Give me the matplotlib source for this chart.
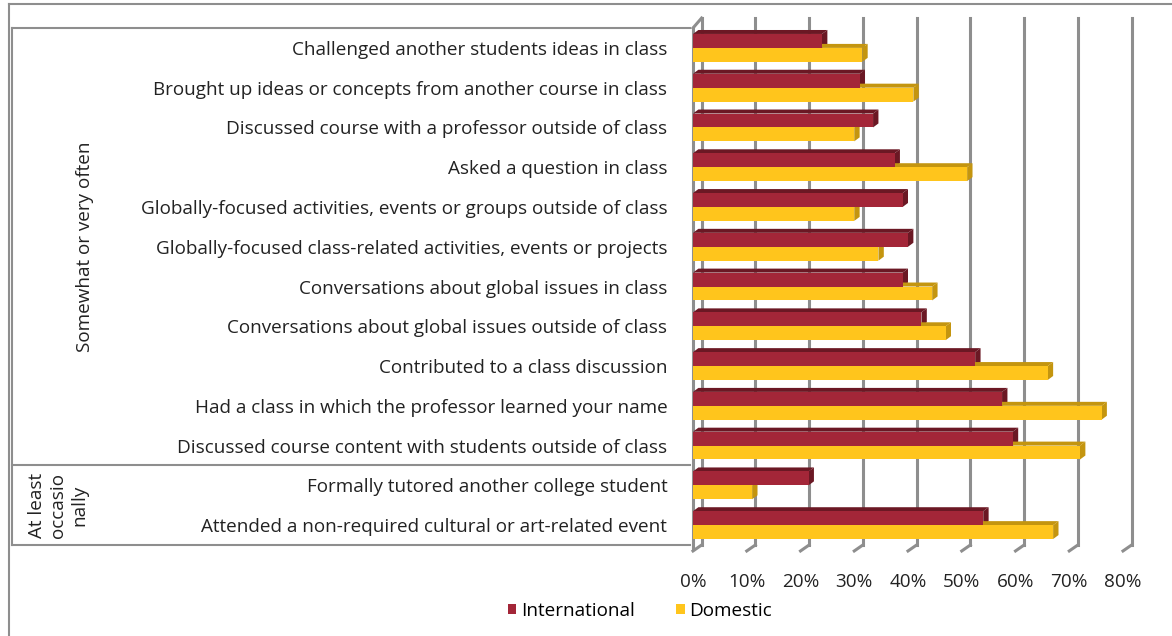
import matplotlib.pyplot as plt
from matplotlib.patches import Polygon, Patch
from matplotlib.lines import Line2D
from matplotlib.transforms import blended_transform_factory

plt.rcParams['font.family'] = ['Open Sans', 'DejaVu Sans']

categories = [
    'Challenged another students ideas in class',
    'Brought up ideas or concepts from another course in class',
    'Discussed course with a professor outside of class',
    'Asked a question in class',
    'Globally-focused activities, events or groups outside of class',
    'Globally-focused class-related activities, events or projects',
    'Conversations about global issues in class',
    'Conversations about global issues outside of class',
    'Contributed to a class discussion',
    'Had a class in which the professor learned your name',
    'Discussed course content with students outside of class',
    'Formally tutored another college student',
    'Attended a non-required cultural or art-related event',
]
international = [24, 31, 33.5, 37.5, 39, 40, 39, 42.5, 52.5, 57.5, 59.5, 21.5, 54]
domestic = [31.5, 41, 30, 51, 30, 34.5, 44.5, 47, 66, 76, 72, 11, 67]
groups = ['Somewhat or very often', 'At least\noccasio\nnally']
xticks = [0, 10, 20, 30, 40, 50, 60, 70, 80]

red, red_dark = '#A32638', '#6B1824'
gold, gold_dark = '#FFC51C', '#C4950F'
grid_c = '#8E8E8E'
txt_c = '#222222'
fs = 13.6
dx, dy = 1.0, 0.1  # 3d depth offsets


def draw_bar(ax, y, v, h, face, dark):
    top, bot = y - h / 2, y + h / 2
    ax.add_patch(Polygon([(0, top), (v, top), (v + dx, top - dy), (dx, top - dy)],
                         closed=True, facecolor=dark, edgecolor='none', zorder=3))
    ax.add_patch(Polygon([(v, bot), (v, top), (v + dx, top - dy), (v + dx, bot - dy)],
                         closed=True, facecolor=dark, edgecolor='none', zorder=3))
    ax.barh(y, v, height=h, color=face, zorder=4)


fig = plt.figure(figsize=(11.72, 6.36), dpi=100)
ax = fig.add_axes([693 / 1172, 1 - 545 / 636, 430 / 1172, 517 / 636])

h = 0.35
for i in range(len(categories)):
    draw_bar(ax, i - 0.175, international[i], h, red, red_dark)
    draw_bar(ax, i + 0.175, domestic[i], h, gold, gold_dark)

ax.set_xlim(0, 80)
ax.set_ylim(12.5, -0.5)

# back-wall gridlines and slanted floor ticks
for t in xticks:
    ax.plot([t + 1.6, t + 1.6], [12.5, -0.75], color=grid_c, lw=2.2, zorder=1, clip_on=False)
    ax.plot([t, t + 1.6], [12.65, 12.5], color=grid_c, lw=2.2, zorder=1, clip_on=False)
ax.plot([0, 0], [12.6, -0.5], color=grid_c, lw=2.2, zorder=2, clip_on=False)
ax.plot([0, 1.6], [-0.5, -0.75], color=grid_c, lw=2.2, zorder=2, clip_on=False)

for s in ax.spines.values():
    s.set_visible(False)
ax.set_xticks(xticks)
ax.set_xticklabels([f'{t}%' for t in xticks], fontsize=fs, color=txt_c)
ax.tick_params(axis='x', length=0, pad=20)
ax.set_yticks(range(len(categories)))
ax.set_yticklabels(categories, fontsize=fs, color=txt_c)
ax.tick_params(axis='y', length=0, pad=18.5)

# category table lines and group labels
bt = blended_transform_factory(fig.transFigure, ax.transData)
x_left, x_right = 12 / 1172, 690 / 1172
for yl in [-0.5, 10.5, 12.5]:
    ax.plot([x_left, x_right], [yl, yl], color=grid_c, lw=1.5, transform=bt, clip_on=False)
ax.plot([x_left, x_left], [-0.5, 12.5], color=grid_c, lw=1.5, transform=bt, clip_on=False)
ax.text(85 / 1172, 5, groups[0], rotation=90, ha='center', va='center',
        fontsize=fs, color=txt_c, transform=bt)
ax.text(58 / 1172, 11.5, groups[1], rotation=90, ha='center', va='center',
        fontsize=fs, color=txt_c, transform=bt, multialignment='center', linespacing=1.25)

# outer frame
fig.add_artist(Line2D([9 / 1172, 9 / 1172], [0, 1 - 4 / 636], color=grid_c, lw=1.5))
fig.add_artist(Line2D([9 / 1172, 1], [1 - 4 / 636, 1 - 4 / 636], color=grid_c, lw=1.5))

handles = [Patch(facecolor=red, label='International'), Patch(facecolor=gold, label='Domestic')]
fig.legend(handles=handles, loc='center', bbox_to_anchor=(640 / 1172, 1 - 611 / 636), ncol=2,
           frameon=False, fontsize=fs, handlelength=0.45, handleheight=0.45,
           handletextpad=0.25, columnspacing=2.2)

fig.savefig('out.png', dpi=100)
